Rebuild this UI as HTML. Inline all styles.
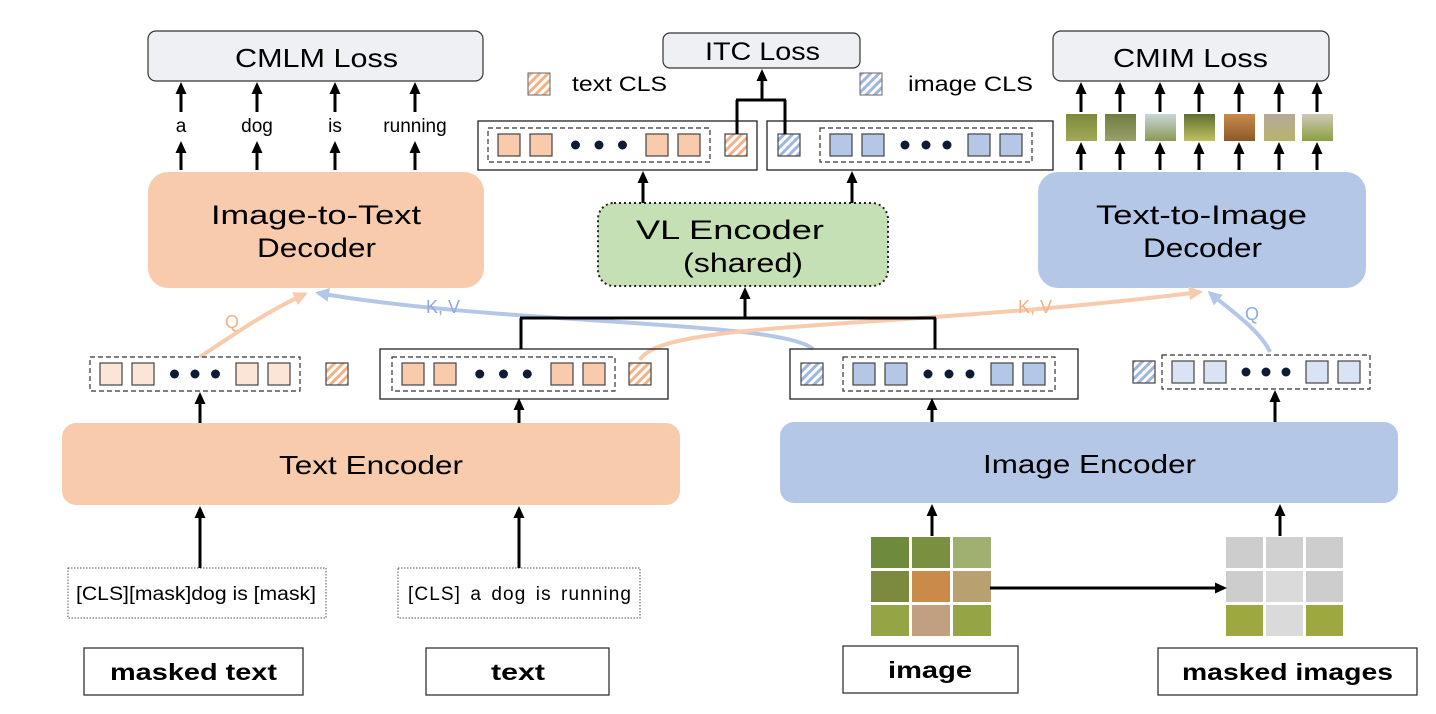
<!DOCTYPE html>
<html><head><meta charset="utf-8"><style>
html,body{margin:0;padding:0;background:#fff;}
svg{display:block;font-family:"Liberation Sans","DejaVu Sans",sans-serif;}
</style></head><body>
<svg id="s" width="1436" height="714" viewBox="0 0 1436 714" xmlns="http://www.w3.org/2000/svg">
<defs>
<pattern id="po" width="6" height="6" patternUnits="userSpaceOnUse" patternTransform="rotate(45)"><rect width="6" height="6" fill="#fff"/><rect width="3" height="6" fill="#f4b183"/></pattern>
<pattern id="pb" width="6" height="6" patternUnits="userSpaceOnUse" patternTransform="rotate(45)"><rect width="6" height="6" fill="#fff"/><rect width="3" height="6" fill="#9db5e0"/></pattern>
<marker id="ah" markerWidth="12" markerHeight="12" refX="9" refY="6" orient="auto" markerUnits="userSpaceOnUse" viewBox="0 0 12 12"><path d="M0,0.5 L12,6 L0,11.5 z" fill="#000"/></marker>
<marker id="ao" markerWidth="16" markerHeight="16" refX="11" refY="8" orient="auto" markerUnits="userSpaceOnUse" viewBox="0 0 16 16"><path d="M0,1 L14,8 L0,15 z" fill="#f8cbad"/></marker>
<marker id="ab" markerWidth="16" markerHeight="16" refX="11" refY="8" orient="auto" markerUnits="userSpaceOnUse" viewBox="0 0 16 16"><path d="M0,1 L14,8 L0,15 z" fill="#b4c7e7"/></marker>
</defs>

<rect x="148" y="31" width="335" height="50" rx="8" fill="#eef0f3" stroke="#333" stroke-width="1.2"/>
<text x="235" y="67" font-size="26" textLength="163" lengthAdjust="spacingAndGlyphs">CMLM Loss</text>
<rect x="663" y="33" width="197" height="35" rx="7" fill="#eef0f3" stroke="#333" stroke-width="1.2"/>
<text x="705" y="60" font-size="25" textLength="115" lengthAdjust="spacingAndGlyphs">ITC Loss</text>
<rect x="1053" y="31" width="276" height="50" rx="8" fill="#eef0f3" stroke="#333" stroke-width="1.2"/>
<text x="1113" y="67" font-size="26" textLength="155" lengthAdjust="spacingAndGlyphs">CMIM Loss</text>

<rect x="528" y="73" width="22" height="22" fill="url(#po)" stroke="#666"/>
<text x="572" y="91" font-size="21" textLength="95" lengthAdjust="spacingAndGlyphs">text CLS</text>
<rect x="860" y="73" width="22" height="22" fill="url(#pb)" stroke="#666"/>
<text x="908" y="91" font-size="21" textLength="125" lengthAdjust="spacingAndGlyphs">image CLS</text>

<rect x="148" y="172" width="336" height="116" rx="20" fill="#f8cbad"/>
<text x="211" y="224" font-size="27" textLength="210" lengthAdjust="spacingAndGlyphs">Image-to-Text</text>
<text x="257" y="257" font-size="27" textLength="119" lengthAdjust="spacingAndGlyphs">Decoder</text>
<rect x="598" y="203" width="290" height="83" rx="16" fill="#c5e0b4" stroke="#222" stroke-width="2" stroke-dasharray="2,3"/>
<text x="636" y="239" font-size="27" textLength="188" lengthAdjust="spacingAndGlyphs">VL Encoder</text>
<text x="683" y="272" font-size="27" textLength="120" lengthAdjust="spacingAndGlyphs">(shared)</text>
<rect x="1038" y="172" width="328" height="116" rx="20" fill="#b4c7e7"/>
<text x="1096" y="224" font-size="27" textLength="211" lengthAdjust="spacingAndGlyphs">Text-to-Image</text>
<text x="1143" y="257" font-size="27" textLength="119" lengthAdjust="spacingAndGlyphs">Decoder</text>
<rect x="62" y="423" width="618" height="82" rx="14" fill="#f8cbad"/>
<text x="279" y="474" font-size="26" textLength="184" lengthAdjust="spacingAndGlyphs">Text Encoder</text>
<rect x="780" y="422" width="618" height="81" rx="14" fill="#b4c7e7"/>
<text x="983" y="473" font-size="26" textLength="213" lengthAdjust="spacingAndGlyphs">Image Encoder</text>

<text x="181" y="132" font-size="19" text-anchor="middle">a</text>
<text x="257" y="132" font-size="19" text-anchor="middle">dog</text>
<text x="335" y="132" font-size="19" text-anchor="middle">is</text>
<text x="415" y="132" font-size="19" text-anchor="middle">running</text>

<rect x="68" y="568" width="258" height="50" fill="#fff" stroke="#555" stroke-dasharray="1.5,1.5"/>
<text x="76" y="600" font-size="19" textLength="240" lengthAdjust="spacingAndGlyphs">[CLS][mask]dog is [mask]</text>
<rect x="398" y="568" width="242" height="50" fill="#fff" stroke="#555" stroke-dasharray="1.5,1.5"/>
<text x="408" y="600" font-size="19" textLength="223" lengthAdjust="spacing" word-spacing="3">[CLS] a dog is running</text>
<rect x="84" y="648" width="219" height="47" fill="#fff" stroke="#333" stroke-width="1.3"/>
<text x="110" y="680" font-size="23" font-weight="bold" textLength="167" lengthAdjust="spacingAndGlyphs">masked text</text>
<rect x="426" y="648" width="183" height="47" fill="#fff" stroke="#333" stroke-width="1.3"/>
<text x="491" y="680" font-size="23" font-weight="bold" textLength="54" lengthAdjust="spacingAndGlyphs">text</text>
<rect x="843" y="646" width="175" height="47" fill="#fff" stroke="#333" stroke-width="1.3"/>
<text x="888" y="678" font-size="23" font-weight="bold" textLength="84" lengthAdjust="spacingAndGlyphs">image</text>
<rect x="1158" y="648" width="259" height="47" fill="#fff" stroke="#333" stroke-width="1.3"/>
<text x="1182" y="680" font-size="23" font-weight="bold" textLength="211" lengthAdjust="spacingAndGlyphs">masked images</text>

<path d="M200,357 C240,330 270,310 305,294" fill="none" stroke="#f8cbad" stroke-width="4" marker-end="url(#ao)"/>
<text x="232" y="328" font-size="18" fill="#f4b183" text-anchor="middle">Q</text>
<path d="M813,349 C780,320 500,325 318,293" fill="none" stroke="#b4c7e7" stroke-width="4" marker-end="url(#ab)"/>
<text x="443" y="313" font-size="18" fill="#8faadc" text-anchor="middle">K, V</text>
<path d="M640,360 C660,320 900,330 1200,292" fill="none" stroke="#f8cbad" stroke-width="4" marker-end="url(#ao)"/>
<text x="1035" y="313" font-size="18" fill="#f4b183" text-anchor="middle">K, V</text>
<path d="M1270,352 C1260,330 1230,310 1210,293" fill="none" stroke="#b4c7e7" stroke-width="4" marker-end="url(#ab)"/>
<text x="1252" y="320" font-size="18" fill="#8faadc" text-anchor="middle">Q</text>

<g id="dyn"></g>
</svg>
<script>
var NS="http://www.w3.org/2000/svg",g=document.getElementById('dyn');
function el(t,a){var e=document.createElementNS(NS,t);for(var k in a)e.setAttribute(k,a[k]);g.appendChild(e);return e;}
function arrow(x,y1,y2){el('line',{x1:x,y1:y1,x2:x,y2:y2+2,stroke:'#000','stroke-width':3,'marker-end':'url(#ah)'});}
function line(x1,y1,x2,y2){el('line',{x1:x1,y1:y1,x2:x2,y2:y2,stroke:'#000','stroke-width':3});}
function tokens(x0,x1,yc,fill){
  var s=22,w=x1-x0;
  var xs=[x0+10,x0+10+s+10,x1-10-2*s-10,x1-10-s];
  xs.forEach(function(x){el('rect',{x:x,y:yc-s/2,width:s,height:s,fill:fill,stroke:'#444','stroke-width':1.2});});
  var a=xs[1]+s,b=xs[2];
  for(var i=0;i<3;i++){el('circle',{cx:a+(b-a)*(i+1)/4,cy:yc,r:4.5,fill:'#0f1b33'});}
  el('rect',{x:x0,y:yc-17,width:w,height:34,fill:'none',stroke:'#333','stroke-width':1.2,'stroke-dasharray':'5,3'});
}
function cls(x,yc,p){el('rect',{x:x,y:yc-11,width:22,height:22,fill:'url(#'+p+')',stroke:'#444','stroke-width':1.2});}
function box(x,y,w,h){el('rect',{x:x,y:y,width:w,height:h,fill:'none',stroke:'#222','stroke-width':1.3});}
tokens(90,300,374,'#fbe5d6'); cls(326,374,'po');
box(380,349,288,50); tokens(392,615,374,'#f8cbad'); cls(629,374,'po');
box(790,349,288,50); cls(801,374,'pb'); tokens(843,1055,374,'#b4c7e7');
cls(1133,372,'pb'); tokens(1162,1370,372,'#dae3f3');
box(478,121,279,49); tokens(488,710,145,'#f8cbad'); cls(725,145,'po');
box(767,121,286,49); cls(778,145,'pb'); tokens(820,1032,145,'#b4c7e7');
line(737,134,737,100); line(785,134,785,100); line(736,100,786,100); arrow(762,100,70);
arrow(643,203,172); arrow(852,203,172);
line(521,349,521,318); line(935,349,935,318); line(520,318,936,318); arrow(745,318,288);
[181,257,335,415].forEach(function(x){arrow(x,170,142);arrow(x,112,83);});
var tx=[1066,1105,1145,1184,1224,1264,1302],cols=[['#7d8a3a','#a3a85a'],['#6f7d40','#9aa06a'],['#c8d6d8','#8a9a55'],['#5f7030','#c2c060'],['#c98a4a','#8a5a2a'],['#b9a89a','#b5b46a'],['#cfc8b8','#8aa040']];
tx.forEach(function(x,i){var cx=x+15;arrow(cx,170,143);arrow(cx,112,83);
  var gid='t'+i;var lg=document.createElementNS(NS,'linearGradient');lg.setAttribute('id',gid);lg.setAttribute('x1',0);lg.setAttribute('y1',0);lg.setAttribute('x2',0);lg.setAttribute('y2',1);
  lg.innerHTML='<stop offset="0" stop-color="'+cols[i][0]+'"/><stop offset="1" stop-color="'+cols[i][1]+'"/>';document.querySelector('defs').appendChild(lg);
  el('rect',{x:x,y:114,width:31,height:27,fill:'url(#'+gid+')'});});
arrow(200,423,393); arrow(519,423,399); arrow(932,422,399); arrow(1275,422,391);
arrow(200,568,507); arrow(519,568,507); arrow(932,536,505); arrow(1280,536,505);
var gc=[['#6e8a3c','#7a9040','#a0b070'],['#7c8a40','#c98a4a','#b8a070'],['#95a545','#c0a080','#95a545']];
for(var r=0;r<3;r++)for(var c=0;c<3;c++){el('rect',{x:871+c*41,y:537+r*34,width:38,height:31,fill:gc[r][c]});}
var mc=[['#cdcdcd','#d0d0d0','#cdcdcd'],['#cdcdcd','#dadada','#cdcdcd'],['#9ea840','#dadada','#9ea840']];
for(var r=0;r<3;r++)for(var c=0;c<3;c++){el('rect',{x:1226+c*40,y:537+r*34,width:37,height:31,fill:mc[r][c]});}
el('line',{x1:990,y1:588,x2:1224,y2:588,stroke:'#000','stroke-width':3,'marker-end':'url(#ah)'});
</script>
</body></html>
